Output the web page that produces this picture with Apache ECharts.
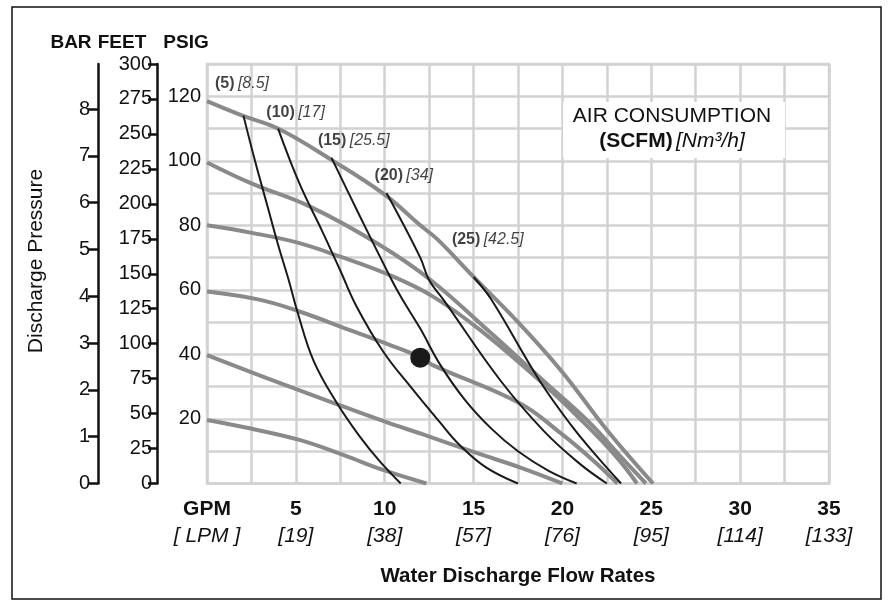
<!DOCTYPE html>
<html>
<head>
<meta charset="utf-8">
<script src="https://cdn.jsdelivr.net/npm/echarts@6/dist/echarts.min.js"></script>
<style>html,body{margin:0;padding:0;background:#fff}#c{width:891px;height:609px}</style>
</head>
<body>
<div id="c"></div>
<script>
// ---- axis ticks / labels ----
const gpmTicks = [0, 5, 10, 15, 20, 25, 30, 35];
const lpmLabels = ['[ LPM ]', '[19]', '[38]', '[57]', '[76]', '[95]', '[114]', '[133]'];
const barTicks = [0, 1, 2, 3, 4, 5, 6, 7, 8];

// ---- air inlet pressure curves (gray): GPM, PSIG ----
const g120x = [0, 2, 4, 7, 10, 12, 13, 15, 17.5, 20, 22.5, 25.1];
const g120y = [118.5, 114, 110, 100.3, 89.5, 80, 75.5, 64, 50, 34.5, 16.6, 0];
const g100x = [0, 2.5, 5.8, 9.7, 12.6, 15.9, 19.1, 21.5, 23.5, 24.7];
const g100y = [99.5, 93, 85.8, 74, 63, 47, 31, 19, 7, 0];
const g80x = [0, 2.6, 5.2, 7.5, 10.1, 12.7, 15.5, 18.7, 21, 23, 24.2];
const g80y = [80, 77.6, 74.5, 70.3, 65, 58, 47, 32, 20, 8.5, 0];
const g60x = [0, 3, 5.2, 8, 10.3, 12, 12.7, 17.6, 19.9, 21.7, 23.1];
const g60y = [59.5, 56.9, 53.3, 47.6, 42.9, 39.1, 36.7, 24.9, 15.6, 7.3, 0];
const g40x = [0, 3.4, 7.1, 10.1, 12, 15.2, 17.6, 20];
const g40y = [39.8, 32.6, 25, 19, 15.5, 9.4, 5, 0];
const g20x = [0, 2.4, 5.2, 7.7, 9.9, 12.35];
const g20y = [19.7, 17.1, 13.5, 8.8, 4.2, 0];

// ---- air consumption curves (black): GPM, PSIG ----
const a5x = [2.05, 2.7, 3.4, 4.0, 4.6, 5.1, 6.0, 7.3, 8.6, 9.7, 10.9];
const a5y = [114, 100, 86, 74, 63, 53, 38, 25, 14.5, 7, 0];
const a10x = [4.0, 5.2, 6.5, 7.5, 8.4, 9.9, 11.6, 13.1, 14.2, 15.7, 17.5];
const a10y = [110, 93, 78, 66, 55, 41, 29, 19, 12, 5, 0];
const a15x = [7.0, 8.5, 10.4, 11.0, 12.0, 13.1, 14.5, 16, 17.5, 19.2, 20.8];
const a15y = [101, 84, 63, 57, 48, 37, 26, 17, 10, 4, 0];
const a20x = [10.1, 12, 12.5, 13.3, 16.5, 19, 21, 22.5];
const a20y = [90, 70, 63, 57, 32, 16, 6, 0];
const a25x = [15.0, 16, 18.7, 20.5, 22, 23.3];
const a25y = [64, 57, 32, 18, 8, 0];

// ---- curve labels ----
const scfmLabels = ['(5)', '(10)', '(15)', '(20)', '(25)'];
const nm3Labels = ['[8.5]', '[17]', '[25.5]', '[34]', '[42.5]'];
const labelX = [0.45, 3.34, 6.24, 9.43, 13.78];
const labelY = [123.8, 115.0, 106.2, 95.4, 75.5];

// ---- example point ----
const dotX = [12];
const dotY = [39];

const FONT = 'Liberation Sans, Arial, sans-serif';
const zip = (xs, ys) => xs.map((x, i) => [x, ys[i]]);

const grayCurves = [[g120x, g120y], [g100x, g100y], [g80x, g80y], [g60x, g60y], [g40x, g40y], [g20x, g20y]];
const blackCurves = [[a5x, a5y], [a10x, a10y], [a15x, a15y], [a20x, a20y], [a25x, a25y]];

const series = [];
grayCurves.forEach(c => series.push({
  type: 'line', data: zip(c[0], c[1]), smooth: 0.4, symbol: 'none',
  lineStyle: { color: '#8a8a8a', width: 4 }, z: 3, silent: true
}));
blackCurves.forEach(c => series.push({
  type: 'line', data: zip(c[0], c[1]), smooth: 0.4, symbol: 'none',
  lineStyle: { color: '#1a1a1a', width: 2 }, z: 4, silent: true
}));
series.push({
  type: 'scatter', data: zip(dotX, dotY), symbolSize: 20,
  itemStyle: { color: '#1a1a1a', opacity: 1 }, z: 6, silent: true
});
series.push({
  type: 'scatter', symbolSize: 0, z: 7, silent: true,
  data: labelX.map((x, i) => ({ value: [x, labelY[i]], name: i })),
  label: {
    show: true, position: 'right', distance: 0,
    formatter: p => '{b|' + scfmLabels[p.data.name] + '} {i|' + nm3Labels[p.data.name] + '}',
    rich: {
      b: { fontFamily: FONT, fontWeight: 'bold', fontSize: 16, color: '#111' },
      i: { fontFamily: FONT, fontStyle: 'italic', fontSize: 16, color: '#111' }
    }
  }
});

const chart = echarts.init(document.getElementById('c'), null, { renderer: 'canvas' });
chart.setOption({
  backgroundColor: '#fff',
  animation: false,
  grid: { left: 207, top: 64, width: 622, height: 419.5, show: true, borderColor: '#d2d2d2', borderWidth: 2.5, backgroundColor: '#fff' },
  xAxis: {
    type: 'value', min: 0, max: 35, interval: 2.5,
    axisLine: { show: false }, axisTick: { show: false },
    splitLine: { show: true, lineStyle: { color: '#d2d2d2', width: 2.5 } },
    axisLabel: {
      margin: 12, color: '#111',
      formatter: v => {
        const k = gpmTicks.indexOf(v);
        if (k < 0) return '';
        return '{b|' + (k === 0 ? 'GPM' : v) + '}\n{i|' + lpmLabels[k] + '}';
      },
      rich: {
        b: { fontFamily: FONT, fontWeight: 'bold', fontSize: 21, lineHeight: 27, color: '#111' },
        i: { fontFamily: FONT, fontStyle: 'italic', fontSize: 21, lineHeight: 27, color: '#111' }
      }
    },
    name: 'Water Discharge Flow Rates', nameLocation: 'middle', nameGap: 82,
    nameTextStyle: { fontFamily: FONT, fontWeight: 'bold', fontSize: 20.5, color: '#111' }
  },
  yAxis: [
    {
      type: 'value', min: 0, max: 130, interval: 10, position: 'left',
      axisLine: { show: false }, axisTick: { show: false },
      splitLine: { show: true, lineStyle: { color: '#d2d2d2', width: 2.5 } },
      axisLabel: {
        margin: 6, fontFamily: FONT, fontSize: 20, color: '#111',
        formatter: v => (v > 0 && v % 20 === 0) ? String(v) : ''
      }
    },
    {
      type: 'value', min: 0, max: 300, interval: 25, position: 'left', offset: 50,
      axisLine: { show: true, lineStyle: { color: '#111', width: 2.5 } },
      axisTick: { show: true, length: 9, lineStyle: { color: '#111', width: 2.5 } },
      splitLine: { show: false },
      axisLabel: { margin: 5, fontFamily: FONT, fontSize: 20, color: '#111' }
    },
    {
      type: 'value', min: 0, max: 130 / 14.5038, position: 'left', offset: 109,
      axisLine: { show: true, lineStyle: { color: '#111', width: 2.5 } },
      axisTick: { show: true, length: 10, customValues: barTicks, lineStyle: { color: '#111', width: 2.5 } },
      splitLine: { show: false },
      axisLabel: { margin: 8, fontFamily: FONT, fontSize: 20, color: '#111', customValues: barTicks }
    }
  ],
  graphic: [
    { type: 'rect', shape: { x: 12, y: 7, width: 869, height: 592 }, style: { fill: 'none', stroke: '#111', lineWidth: 1.5 }, z: 100, silent: true },
    { type: 'text', x: 71, y: 43, style: { text: 'BAR', font: 'bold 19px ' + FONT, fill: '#111', textAlign: 'center', textVerticalAlign: 'middle' }, z: 100 },
    { type: 'text', x: 122, y: 43, style: { text: 'FEET', font: 'bold 19px ' + FONT, fill: '#111', textAlign: 'center', textVerticalAlign: 'middle' }, z: 100 },
    { type: 'text', x: 186, y: 43, style: { text: 'PSIG', font: 'bold 19px ' + FONT, fill: '#111', textAlign: 'center', textVerticalAlign: 'middle' }, z: 100 },
    { type: 'text', x: 36, y: 261, rotation: Math.PI / 2, style: { text: 'Discharge Pressure', font: '21px ' + FONT, fill: '#111', textAlign: 'center', textVerticalAlign: 'middle' }, z: 100 },
    { type: 'rect', shape: { x: 563, y: 102, width: 222, height: 56 }, style: { fill: '#fff' }, z: 50, silent: true },
    { type: 'text', x: 672, y: 116, style: { text: 'AIR CONSUMPTION', font: '21px Liberation Sans Narrow, ' + FONT, fill: '#111', textAlign: 'center', textVerticalAlign: 'middle' }, z: 100 },
    { type: 'text', x: 672, y: 141, style: {
        text: '{b|(SCFM)} {i|[Nm³/h]}', textAlign: 'center', textVerticalAlign: 'middle',
        rich: {
          b: { fontFamily: 'Liberation Sans Narrow, ' + FONT, fontWeight: 'bold', fontSize: 21, fill: '#111', color: '#111' },
          i: { fontFamily: 'Liberation Sans Narrow, ' + FONT, fontStyle: 'italic', fontSize: 21, fill: '#111', color: '#111' }
        } }, z: 100 }
  ],
  series: series
});
</script>
</body>
</html>
